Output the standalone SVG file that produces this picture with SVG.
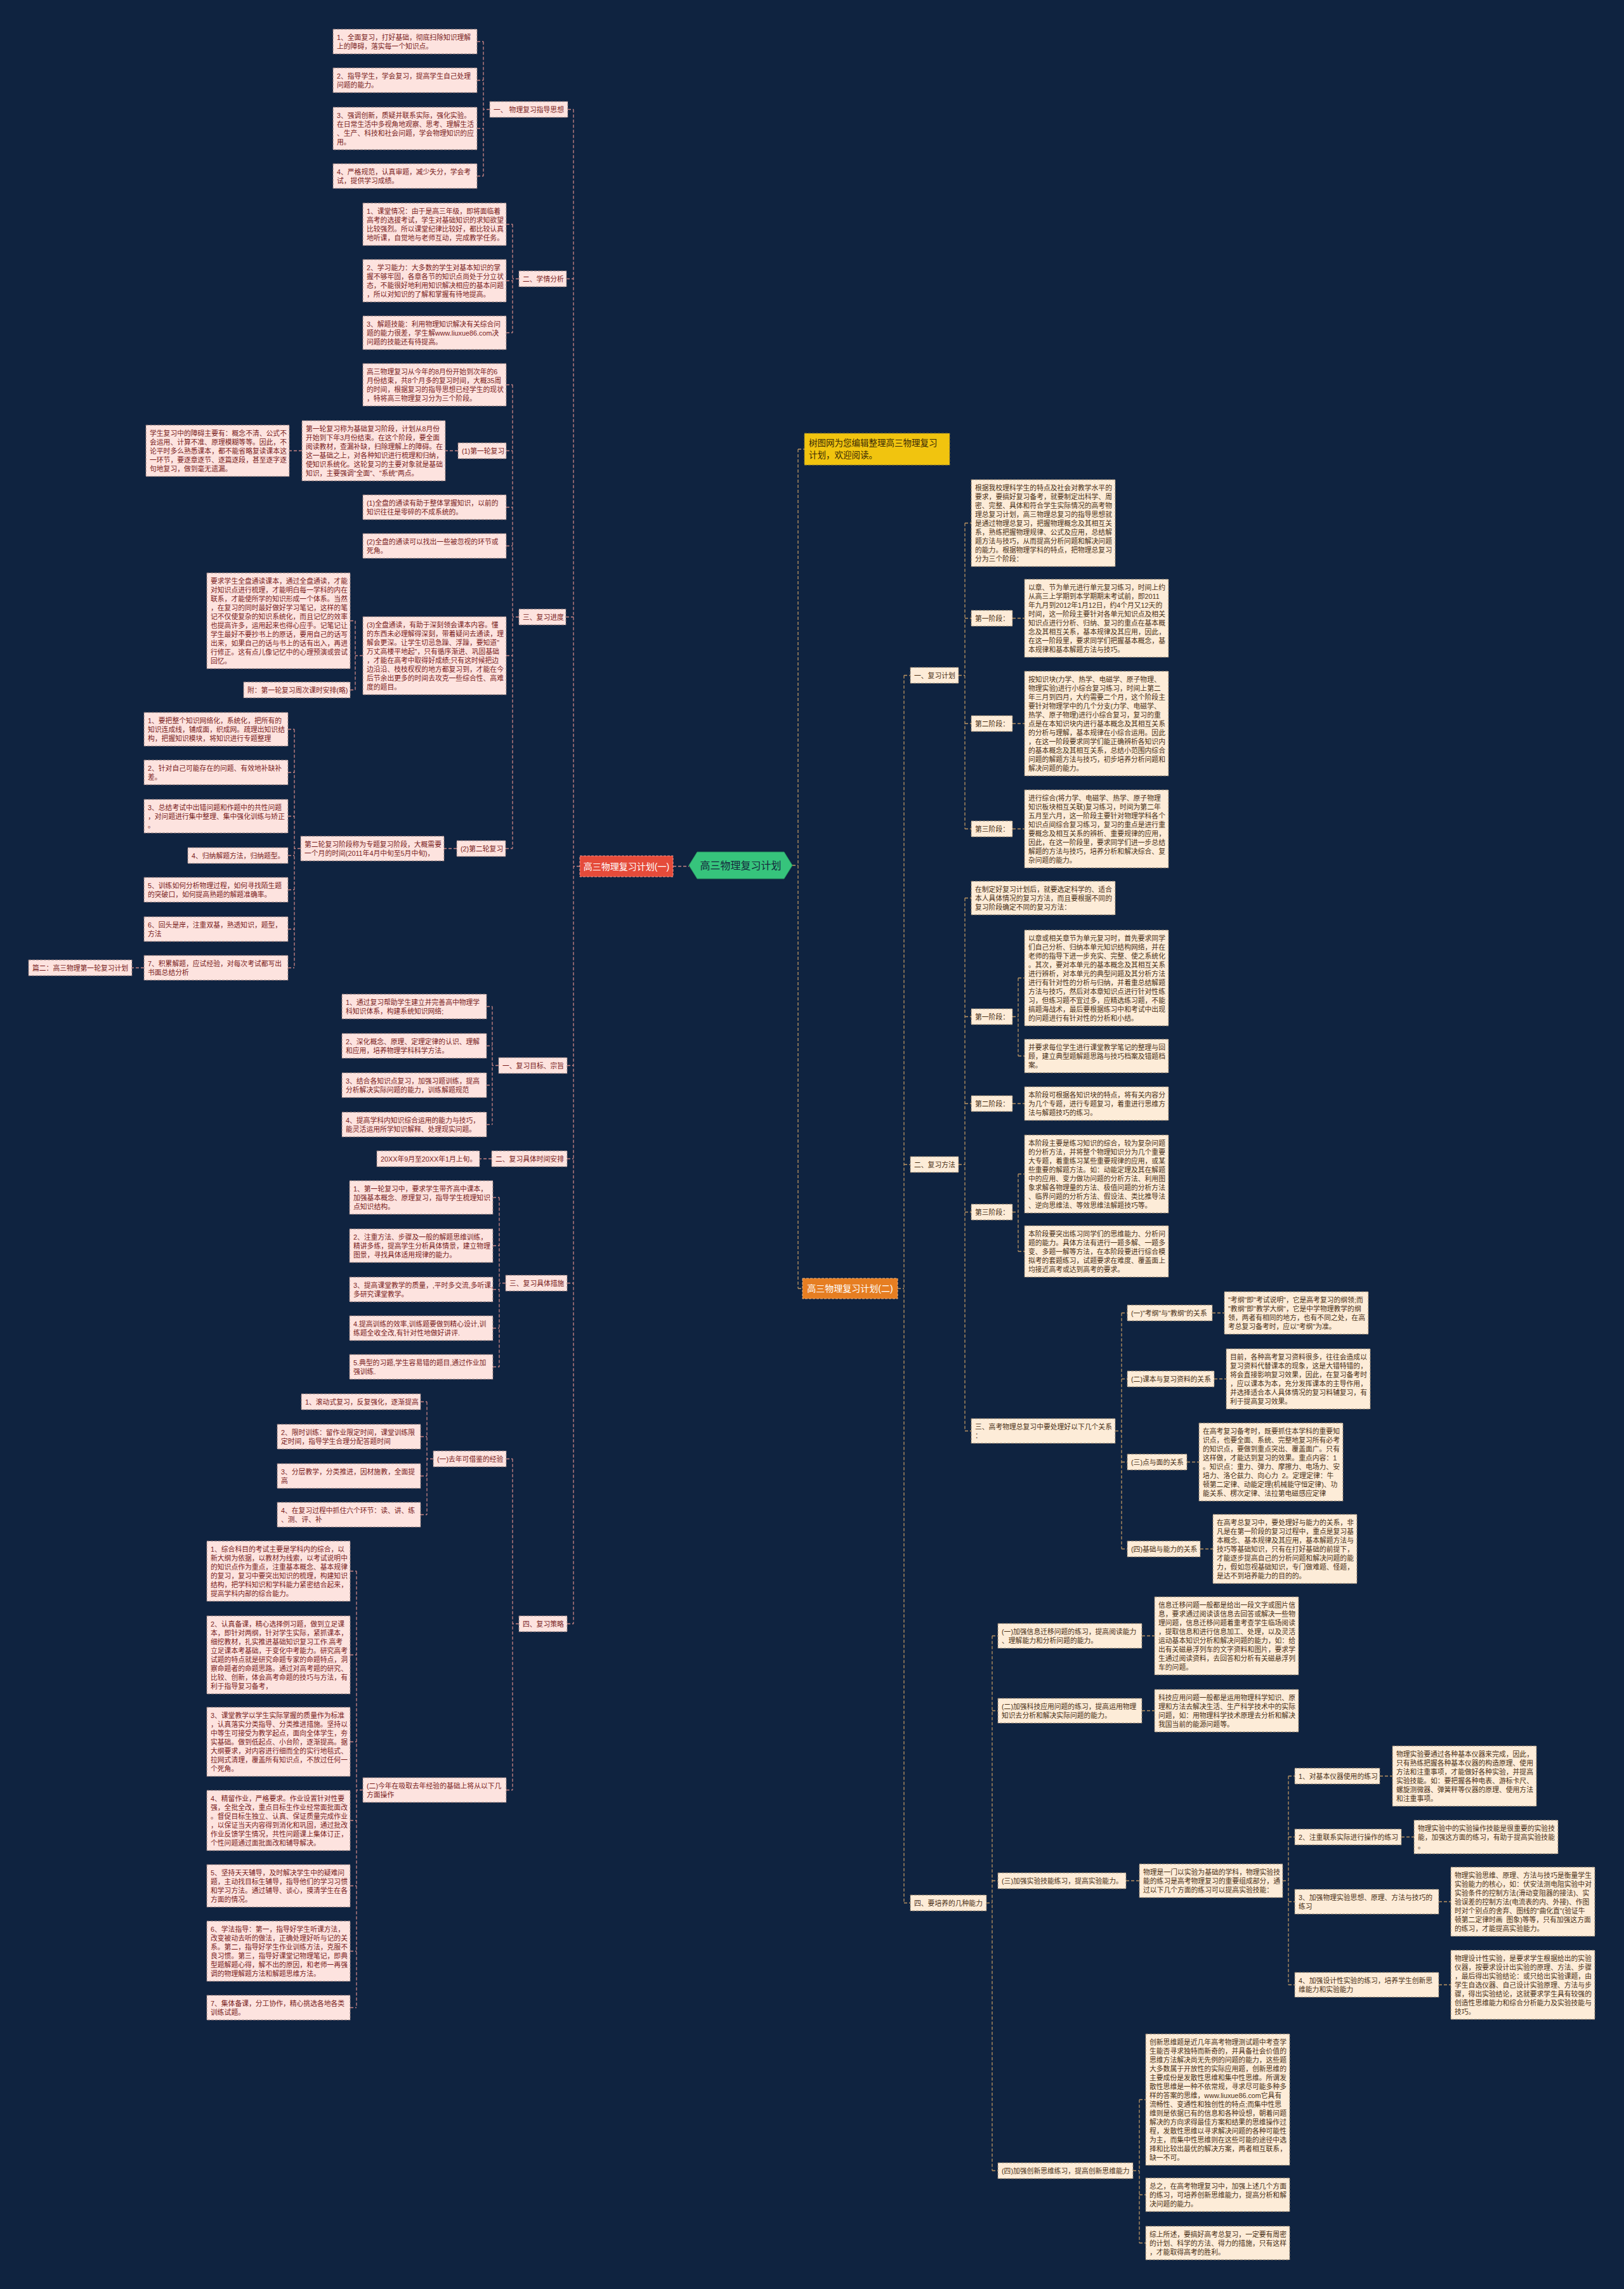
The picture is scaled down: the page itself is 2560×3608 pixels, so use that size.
<svg xmlns="http://www.w3.org/2000/svg" width="2560" height="3608" viewBox="0 0 2560 3608">
<style>
text{font-family:"Liberation Sans","Noto Sans CJK SC",sans-serif;font-size:10.8px}
.L{fill:#fde3df;stroke:#8d7676;stroke-width:1;stroke-dasharray:4 2}
.R{fill:#fdecd8;stroke:#8d7c68;stroke-width:1;stroke-dasharray:4 2}
.l{fill:#7a1c1c}
.r{fill:#4a3015}
.cl{fill:none;stroke:#c98585;stroke-width:1.3;stroke-dasharray:5 3}
.cr{fill:none;stroke:#bb9462;stroke-width:1.3;stroke-dasharray:5 3}
</style>
<rect width="2560" height="3608" fill="#0f2340"/>
<g id="connectors">
<path class="cl" d="M914,1365.5H904M904,172.5V2559.5M895,172.5H904M893,439.5H904M892,972.5H904M894,1679.5H904M894,1826.5H904M894,2022.5H904M894,2559.5H904M1061,1365.5H1086
M772,172.5H762M762,65.5V277.5M752,65.5H762M752,126.5H762M752,202.5H762M752,277.5H762
M818,439.5H808M808,353.5V524.5M798,353.5H808M798,442.5H808M798,524.5H808
M818,972.5H808M808,606.5V1337.5M798,606.5H808M798,710.5H808M798,799.5H808M798,860.5H808M798,1033.5H808M797,1337.5H808
M722,710.5H702M476,710.5H456
M572,1033.5H560M560,978.5V1087.5M552,978.5H560M552,1087.5H560
M720,1337.5H700
M474,1337.5H464M464,1149.5V1525.5M454,1149.5H464M454,1217.5H464M454,1286.5H464M454,1348.5H464M454,1402.5H464M454,1464.5H464M454,1525.5H464
M227,1525.5H208
M786,1679.5H776M776,1586.5V1772.5M767,1586.5H776M767,1648.5H776M767,1710.5H776M767,1772.5H776
M775,1826.5H756
M797,2022.5H787M787,1887.5V2154.5M777,1887.5H787M777,1963.5H787M777,2032.5H787M777,2093.5H787M777,2154.5H787
M818,2559.5H808M808,2299.5V2821.5M798,2299.5H808M798,2821.5H808
M683,2299.5H673M673,2209.5V2387.5M663,2209.5H673M663,2264.5H673M663,2326.5H673M663,2387.5H673
M572,2821.5H562M562,2476.5V3164.5M552,2476.5H562M552,2608.5H562M552,2745.5H562M552,2869.5H562M552,2972.5H562M552,3075.5H562M552,3164.5H562"/>
<path class="cr" d="M1249,1364H1258M1258,708V2031M1258,708H1268M1258,2031H1265
M1415,2031H1425M1425,1064.5V2999.5M1425,1064.5H1435M1425,1835.5H1435M1425,2999.5H1435
M1511,1064.5H1521M1521,824.5V1306.5M1521,824.5H1531M1521,974.5H1531M1521,1140.5H1531M1521,1306.5H1531
M1596,974.5H1615M1596,1140.5H1615M1596,1306.5H1615
M1511,1835.5H1521M1521,1415.5V2255.5M1521,1415.5H1531M1521,1602.5H1531M1521,1739.5H1531M1521,1910.5H1531M1521,2255.5H1531
M1596,1602.5H1605M1605,1541.5V1664.5M1605,1541.5H1615M1605,1664.5H1615
M1596,1739.5H1615
M1596,1910.5H1605M1605,1850.5V1972.5M1605,1850.5H1615M1605,1972.5H1615
M1758,2255.5H1768M1768,2069.5V2441.5M1768,2069.5H1777M1768,2173.5H1777M1768,2304.5H1777M1768,2441.5H1777
M1911,2069.5H1930M1914,2173.5H1933M1871,2304.5H1890M1892,2441.5H1912
M1555,2999.5H1564M1564,2578.5V3421.5M1564,2578.5H1573M1564,2696.5H1573M1564,2964.5H1573M1564,3421.5H1573
M1800,2578.5H1820M1800,2696.5H1820M1775,2964.5H1796
M2022,2964.5H2031M2031,2799.5V3128.5M2031,2799.5H2041M2031,2895.5H2041M2031,2997.5H2041M2031,3128.5H2041
M2175,2799.5H2195M2209,2895.5H2229M2268,2997.5H2287M2268,3128.5H2287
M1786,3421.5H1796M1796,3309.5V3535.5M1796,3309.5H1806M1796,3459.5H1806M1796,3535.5H1806"/>
</g>

<g id="root"><polygon points="1086,1364 1099,1343 1236,1343 1249,1364 1236,1385 1099,1385" fill="#36c47c" stroke="#2a9d62" stroke-width="1"/><text x="1167.5" y="1369.5" text-anchor="middle" style="font-size:16px" fill="#14283c">高三物理复习计划</text></g>

<g id="plan1"><rect x="914" y="1349" width="147" height="33" fill="#e54b3a" stroke="#f39a8f" stroke-dasharray="4 2"/><text x="987.5" y="1370.5" text-anchor="middle" style="font-size:14px" fill="#ffffff">高三物理复习计划(一)</text></g>
<g id="plan2"><rect x="1265" y="2015" width="150" height="32" fill="#e67e22" stroke="#f5b47a" stroke-dasharray="4 2"/><text x="1340" y="2036" text-anchor="middle" style="font-size:14px" fill="#ffffff">高三物理复习计划(二)</text></g>
<g id="intro"><rect x="1268" y="683" width="229" height="50" fill="#f1c40f" stroke="#8a7a30" stroke-dasharray="4 2"/><text style="font-size:13.5px" fill="#3a2a05"><tspan x="1275" y="702.5">树图网为您编辑整理高三物理复习</tspan><tspan x="1275" y="721.5">计划，欢迎阅读。</tspan></text></g>

<!-- LEFT: section 1 -->
<g id="l1"><rect class="L" x="772" y="160" width="123" height="25"/><text class="l" x="778" y="176.5">一、 物理复习指导思想</text></g>
<g id="l1a"><rect class="L" x="525" y="46" width="227" height="39"/><text class="l"><tspan x="531" y="62.5">1、全面复习，打好基础，彻底扫除知识理解</tspan><tspan x="531" dy="14">上的障碍，落实每一个知识点。</tspan></text></g>
<g id="l1b"><rect class="L" x="525" y="107" width="227" height="39"/><text class="l"><tspan x="531" y="123.5">2、指导学生，学会复习，提高学生自己处理</tspan><tspan x="531" dy="14">问题的能力。</tspan></text></g>
<g id="l1c"><rect class="L" x="525" y="169" width="227" height="67"/><text class="l"><tspan x="531" y="185.5">3、强调创新，质疑并联系实际，强化实验。</tspan><tspan x="531" dy="14">在日常生活中多视角地观察、思考、理解生活</tspan><tspan x="531" dy="14">、生产、科技和社会问题，学会物理知识的应</tspan><tspan x="531" dy="14">用。</tspan></text></g>
<g id="l1d"><rect class="L" x="525" y="258" width="227" height="39"/><text class="l"><tspan x="531" y="274.5">4、严格规范，认真审题，减少失分，学会考</tspan><tspan x="531" dy="14">试，提供学习成绩。</tspan></text></g>

<!-- section 2 -->
<g id="l2"><rect class="L" x="818" y="427" width="75" height="25"/><text class="l" x="824" y="443.5">二、学情分析</text></g>
<g id="l2a"><rect class="L" x="572" y="320" width="226" height="67"/><text class="l"><tspan x="578" y="336.5">1、课堂情况：由于是高三年级，即将面临着</tspan><tspan x="578" dy="14">高考的选拔考试，学生对基础知识的求知欲望</tspan><tspan x="578" dy="14">比较强烈。所以课堂纪律比较好，都比较认真</tspan><tspan x="578" dy="14">地听课，自觉地与老师互动，完成教学任务。</tspan></text></g>
<g id="l2b"><rect class="L" x="572" y="409" width="226" height="67"/><text class="l"><tspan x="578" y="425.5">2、学习能力：大多数的学生对基本知识的掌</tspan><tspan x="578" dy="14">握不够牢固，各章各节的知识点尚处于分立状</tspan><tspan x="578" dy="14">态，不能很好地利用知识解决相应的基本问题</tspan><tspan x="578" dy="14">，所以对知识的了解和掌握有待地提高。</tspan></text></g>
<g id="l2c"><rect class="L" x="572" y="498" width="226" height="53"/><text class="l"><tspan x="578" y="514.5">3、解题技能：利用物理知识解决有关综合问</tspan><tspan x="578" dy="14">题的能力很差，学生解www.liuxue86.com决</tspan><tspan x="578" dy="14">问题的技能还有待提高。</tspan></text></g>

<!-- section 3 -->
<g id="l3"><rect class="L" x="818" y="960" width="74" height="25"/><text class="l" x="824" y="976.5">三、复习进度</text></g>
<g id="l3a"><rect class="L" x="572" y="573" width="226" height="67"/><text class="l"><tspan x="578" y="589.5">高三物理复习从今年的8月份开始到次年的6</tspan><tspan x="578" dy="14">月份结束，共8个月多的复习时间，大概35周</tspan><tspan x="578" dy="14">的时间，根据复习的指导思想已经学生的现状</tspan><tspan x="578" dy="14">，特将高三物理复习分为三个阶段。</tspan></text></g>
<g id="l3b"><rect class="L" x="722" y="698" width="76" height="25"/><text class="l" x="728" y="714.5">(1)第一轮复习</text></g>
<g id="l3b1"><rect class="L" x="476" y="663" width="226" height="95"/><text class="l"><tspan x="482" y="679.5">第一轮复习称为基础复习阶段，计划从8月份</tspan><tspan x="482" dy="14">开始到下年3月份结束。在这个阶段，要全面</tspan><tspan x="482" dy="14">阅读教材，查漏补缺，扫除理解上的障碍。在</tspan><tspan x="482" dy="14">这一基础之上，对各种知识进行梳理和归纳，</tspan><tspan x="482" dy="14">使知识系统化。这轮复习的主要对象就是基础</tspan><tspan x="482" dy="14">知识，主要强调"全面"、"系统"两点。</tspan></text></g>
<g id="l3b2"><rect class="L" x="230" y="670" width="226" height="81"/><text class="l"><tspan x="236" y="686.5">学生复习中的障碍主要有：概念不清、公式不</tspan><tspan x="236" dy="14">会运用、计算不准、原理模糊等等。因此，不</tspan><tspan x="236" dy="14">论平时多么熟悉课本，都不能省略复读课本这</tspan><tspan x="236" dy="14">一环节，要逐章逐节、逐篇逐段，甚至逐字逐</tspan><tspan x="236" dy="14">句地复习，做到毫无遗漏。</tspan></text></g>
<g id="l3c"><rect class="L" x="572" y="780" width="226" height="39"/><text class="l"><tspan x="578" y="796.5">(1)全盘的通读有助于整体掌握知识，以前的</tspan><tspan x="578" dy="14">知识往往是零碎的不成系统的。</tspan></text></g>
<g id="l3d"><rect class="L" x="572" y="841" width="226" height="39"/><text class="l"><tspan x="578" y="857.5">(2)全盘的通读可以找出一些被忽视的环节或</tspan><tspan x="578" dy="14">死角。</tspan></text></g>
<g id="l3e"><rect class="L" x="572" y="972" width="226" height="123"/><text class="l"><tspan x="578" y="988.5">(3)全盘通读，有助于深刻领会课本内容。懂</tspan><tspan x="578" dy="14">的东西未必理解得深刻，带着疑问去通读，理</tspan><tspan x="578" dy="14">解会更深。让学生切忌急躁、浮躁，要知道"</tspan><tspan x="578" dy="14">万丈高楼平地起"，只有循序渐进、巩固基础</tspan><tspan x="578" dy="14">，才能在高考中取得好成绩;只有这时候把边</tspan><tspan x="578" dy="14">边沿沿、枝枝杈杈的地方都复习到，才能在今</tspan><tspan x="578" dy="14">后节余出更多的时间去攻克一些综合性、高难</tspan><tspan x="578" dy="14">度的题目。</tspan></text></g>
<g id="l3e1"><rect class="L" x="326" y="903" width="226" height="151"/><text class="l"><tspan x="332" y="919.5">要求学生全盘通读课本，通过全盘通读，才能</tspan><tspan x="332" dy="14">对知识点进行梳理，才能明白每一学科的内在</tspan><tspan x="332" dy="14">联系，才能使所学的知识形成一个体系。当然</tspan><tspan x="332" dy="14">，在复习的同时最好做好学习笔记，这样的笔</tspan><tspan x="332" dy="14">记不仅使复杂的知识系统化，而且记忆的效率</tspan><tspan x="332" dy="14">也提高许多，运用起来也得心应手。记笔记让</tspan><tspan x="332" dy="14">学生最好不要抄书上的原话，要用自己的话写</tspan><tspan x="332" dy="14">出来，如果自己的话与书上的话有出入，再进</tspan><tspan x="332" dy="14">行修正。这有点儿像记忆中的心理预演或尝试</tspan><tspan x="332" dy="14">回忆。</tspan></text></g>
<g id="l3e2"><rect class="L" x="384" y="1075" width="168" height="25"/><text class="l" x="390" y="1091.5">附：第一轮复习周次课时安排(略)</text></g>
<g id="l3f"><rect class="L" x="720" y="1325" width="77" height="25"/><text class="l" x="726" y="1341.5">(2)第二轮复习</text></g>
<g id="l3f1"><rect class="L" x="474" y="1318" width="226" height="39"/><text class="l"><tspan x="480" y="1334.5">第二轮复习阶段称为专题复习阶段，大概需要</tspan><tspan x="480" dy="14">一个月的时间(2011年4月中旬至5月中旬)，</tspan></text></g>
<g id="i1"><rect class="L" x="227" y="1123" width="227" height="53"/><text class="l"><tspan x="233" y="1139.5">1、要把整个知识网络化，系统化，把所有的</tspan><tspan x="233" dy="14">知识连成线，铺成面，织成网。疏理出知识结</tspan><tspan x="233" dy="14">构，把握知识模块，将知识进行专题整理</tspan></text></g>
<g id="i2"><rect class="L" x="227" y="1198" width="227" height="39"/><text class="l"><tspan x="233" y="1214.5">2、针对自己可能存在的问题、有效地补缺补</tspan><tspan x="233" dy="14">差。</tspan></text></g>
<g id="i3"><rect class="L" x="227" y="1260" width="227" height="53"/><text class="l"><tspan x="233" y="1276.5">3、总结考试中出错问题和作题中的共性问题</tspan><tspan x="233" dy="14">，对问题进行集中整理、集中强化训练与矫正</tspan><tspan x="233" dy="14">。</tspan></text></g>
<g id="i4"><rect class="L" x="296" y="1336" width="158" height="25"/><text class="l" x="302" y="1352.5">4、归纳解题方法，归纳题型。</text></g>
<g id="i5"><rect class="L" x="227" y="1383" width="227" height="39"/><text class="l"><tspan x="233" y="1399.5">5、训练如何分析物理过程，如何寻找陌生题</tspan><tspan x="233" dy="14">的突破口，如何提高熟题的解题准确率。</tspan></text></g>
<g id="i6"><rect class="L" x="227" y="1445" width="227" height="39"/><text class="l"><tspan x="233" y="1461.5">6、回头是岸，注重双基，熟透知识，题型，</tspan><tspan x="233" dy="14">方法</tspan></text></g>
<g id="i7"><rect class="L" x="227" y="1506" width="227" height="39"/><text class="l"><tspan x="233" y="1522.5">7、积累解题，应试经验，对每次考试都写出</tspan><tspan x="233" dy="14">书面总结分析</tspan></text></g>
<g id="p2"><rect class="L" x="45" y="1513" width="163" height="25"/><text class="l" x="51" y="1529.5">篇二：高三物理第一轮复习计划</text></g>

<!-- 篇二 parts -->
<g id="m1"><rect class="L" x="786" y="1667" width="108" height="25"/><text class="l" x="792" y="1683.5">一、复习目标、宗旨</text></g>
<g id="m1a"><rect class="L" x="539" y="1567" width="228" height="39"/><text class="l"><tspan x="545" y="1583.5">1、通过复习帮助学生建立并完善高中物理学</tspan><tspan x="545" dy="14">科知识体系，构建系统知识网络;</tspan></text></g>
<g id="m1b"><rect class="L" x="539" y="1629" width="228" height="39"/><text class="l"><tspan x="545" y="1645.5">2、深化概念、原理、定理定律的认识、理解</tspan><tspan x="545" dy="14">和应用，培养物理学科科学方法。</tspan></text></g>
<g id="m1c"><rect class="L" x="539" y="1691" width="228" height="39"/><text class="l"><tspan x="545" y="1707.5">3、结合各知识点复习，加强习题训练，提高</tspan><tspan x="545" dy="14">分析解决实际问题的能力，训练解题规范</tspan></text></g>
<g id="m1d"><rect class="L" x="539" y="1753" width="228" height="39"/><text class="l"><tspan x="545" y="1769.5">4、提高学科内知识综合运用的能力与技巧，</tspan><tspan x="545" dy="14">能灵活运用所学知识解释、处理现实问题。</tspan></text></g>
<g id="m2"><rect class="L" x="775" y="1814" width="119" height="25"/><text class="l" x="781" y="1830.5">二、复习具体时间安排</text></g>
<g id="m2a"><rect class="L" x="594" y="1814" width="162" height="25"/><text class="l" x="600" y="1830.5">20XX年9月至20XX年1月上旬。</text></g>
<g id="m3"><rect class="L" x="797" y="2010" width="97" height="25"/><text class="l" x="803" y="2026.5">三、复习具体措施</text></g>
<g id="m3a"><rect class="L" x="551" y="1861" width="226" height="53"/><text class="l"><tspan x="557" y="1877.5">1、第一轮复习中，要求学生带齐高中课本，</tspan><tspan x="557" dy="14">加强基本概念、原理复习，指导学生梳理知识</tspan><tspan x="557" dy="14">点知识结构。</tspan></text></g>
<g id="m3b"><rect class="L" x="551" y="1937" width="226" height="53"/><text class="l"><tspan x="557" y="1953.5">2、注重方法、步骤及一般的解题思维训练，</tspan><tspan x="557" dy="14">精讲多练，提高学生分析具体情景，建立物理</tspan><tspan x="557" dy="14">图景，寻找具体适用规律的能力。</tspan></text></g>
<g id="m3c"><rect class="L" x="551" y="2013" width="226" height="39"/><text class="l"><tspan x="557" y="2029.5">3、提高课堂教学的质量，,平时多交流,多听课,</tspan><tspan x="557" dy="14">多研究课堂教学。</tspan></text></g>
<g id="m3d"><rect class="L" x="551" y="2074" width="226" height="39"/><text class="l"><tspan x="557" y="2090.5">4.提高训练的效率,训练题要做到精心设计,训</tspan><tspan x="557" dy="14">练题全收全改,有针对性地做好讲评.</tspan></text></g>
<g id="m3e"><rect class="L" x="551" y="2135" width="226" height="39"/><text class="l"><tspan x="557" y="2151.5">5.典型的习题,学生容易错的题目,通过作业加</tspan><tspan x="557" dy="14">强训练.</tspan></text></g>
<g id="m4"><rect class="L" x="818" y="2547" width="76" height="25"/><text class="l" x="824" y="2563.5">四、复习策略</text></g>
<g id="m4a"><rect class="L" x="683" y="2287" width="115" height="25"/><text class="l" x="689" y="2303.5">(一)去年可借鉴的经验</text></g>
<g id="m4a1"><rect class="L" x="475" y="2197" width="188" height="25"/><text class="l" x="481" y="2213.5">1、滚动式复习，反复强化，逐渐提高</text></g>
<g id="m4a2"><rect class="L" x="437" y="2245" width="226" height="39"/><text class="l"><tspan x="443" y="2261.5">2、限时训练：留作业限定时间，课堂训练限</tspan><tspan x="443" dy="14">定时间，指导学生合理分配答题时间</tspan></text></g>
<g id="m4a3"><rect class="L" x="437" y="2307" width="226" height="39"/><text class="l"><tspan x="443" y="2323.5">3、分层教学，分类推进，因材施教，全面提</tspan><tspan x="443" dy="14">高</tspan></text></g>
<g id="m4a4"><rect class="L" x="437" y="2368" width="226" height="39"/><text class="l"><tspan x="443" y="2384.5">4、在复习过程中抓住六个环节：读、讲、练</tspan><tspan x="443" dy="14">、测、评、补</tspan></text></g>
<g id="m4b"><rect class="L" x="572" y="2802" width="226" height="39"/><text class="l"><tspan x="578" y="2818.5">(二)今年在吸取去年经验的基础上将从以下几</tspan><tspan x="578" dy="14">方面操作</tspan></text></g>
<g id="m4b1"><rect class="L" x="326" y="2429" width="226" height="95"/><text class="l"><tspan x="332" y="2445.5">1、综合科目的考试主要是学科内的综合，以</tspan><tspan x="332" dy="14">新大纲为依据，以教材为线索，以考试说明中</tspan><tspan x="332" dy="14">的知识点作为重点，注重基本概念、基本规律</tspan><tspan x="332" dy="14">的复习，复习中要突出知识的梳理，构建知识</tspan><tspan x="332" dy="14">结构，把学科知识和学科能力紧密结合起来，</tspan><tspan x="332" dy="14">提高学科内部的综合能力。</tspan></text></g>
<g id="m4b2"><rect class="L" x="326" y="2547" width="226" height="123"/><text class="l"><tspan x="332" y="2563.5">2、认真备课，精心选择例习题，做到立足课</tspan><tspan x="332" dy="14">本，即针对两纲，针对学生实际，紧抓课本，</tspan><tspan x="332" dy="14">细挖教材，扎实推进基础知识复习工作.高考</tspan><tspan x="332" dy="14">立足课本考基础，于变化中考能力。研究高考</tspan><tspan x="332" dy="14">试题的特点就是研究命题专家的命题特点，洞</tspan><tspan x="332" dy="14">察命题者的命题思路。通过对高考题的研究、</tspan><tspan x="332" dy="14">比较、创新，体会高考命题的技巧与方法，有</tspan><tspan x="332" dy="14">利于指导复习备考，</tspan></text></g>
<g id="m4b3"><rect class="L" x="326" y="2691" width="226" height="109"/><text class="l"><tspan x="332" y="2707.5">3、课堂教学以学生实际掌握的质量作为标准</tspan><tspan x="332" dy="14">，认真落实分类指导、分类推进措施。坚持以</tspan><tspan x="332" dy="14">中等生可接受为教学起点，面向全体学生，夯</tspan><tspan x="332" dy="14">实基础。做到低起点、小台阶，逐渐提高。据</tspan><tspan x="332" dy="14">大纲要求，对内容进行细而全的实行地毯式、</tspan><tspan x="332" dy="14">拉网式清理，覆盖所有知识点，不放过任何一</tspan><tspan x="332" dy="14">个死角。</tspan></text></g>
<g id="m4b4"><rect class="L" x="326" y="2822" width="226" height="95"/><text class="l"><tspan x="332" y="2838.5">4、精留作业，严格要求。作业设置针对性要</tspan><tspan x="332" dy="14">强，全批全改，重点目标生作业经常面批面改</tspan><tspan x="332" dy="14">。督促目标生独立、认真、保证质量完成作业</tspan><tspan x="332" dy="14">，以保证当天内容得到消化和巩固，通过批改</tspan><tspan x="332" dy="14">作业反馈学生情况，共性问题课上集体订正，</tspan><tspan x="332" dy="14">个性问题通过面批面改和辅导解决。</tspan></text></g>
<g id="m4b5"><rect class="L" x="326" y="2939" width="226" height="67"/><text class="l"><tspan x="332" y="2955.5">5、坚持天天辅导，及时解决学生中的疑难问</tspan><tspan x="332" dy="14">题，主动找目标生辅导，指导他们的学习习惯</tspan><tspan x="332" dy="14">和学习方法。通过辅导、谈心，摸清学生在各</tspan><tspan x="332" dy="14">方面的情况。</tspan></text></g>
<g id="m4b6"><rect class="L" x="326" y="3028" width="226" height="95"/><text class="l"><tspan x="332" y="3044.5">6、学法指导：第一，指导好学生听课方法，</tspan><tspan x="332" dy="14">改变被动去听的做法，正确处理好听与记的关</tspan><tspan x="332" dy="14">系。第二，指导好学生作业训练方法，克服不</tspan><tspan x="332" dy="14">良习惯。第三，指导好课堂记物理笔记，即典</tspan><tspan x="332" dy="14">型题解题心得，解不出的原因，和老师一再强</tspan><tspan x="332" dy="14">调的物理解题方法和解题思维方法。</tspan></text></g>
<g id="m4b7"><rect class="L" x="326" y="3145" width="226" height="39"/><text class="l"><tspan x="332" y="3161.5">7、集体备课，分工协作，精心挑选各地各类</tspan><tspan x="332" dy="14">训练试题。</tspan></text></g>

<!-- RIGHT -->
<g id="r1"><rect class="R" x="1435" y="1052" width="76" height="25"/><text class="r" x="1441" y="1068.5">一、复习计划</text></g>
<g id="r1a"><rect class="R" x="1531" y="756" width="227" height="137"/><text class="r"><tspan x="1537" y="772.5">根据我校理科学生的特点及社会对教学水平的</tspan><tspan x="1537" dy="14">要求，要搞好复习备考，就要制定出科学、周</tspan><tspan x="1537" dy="14">密、完整、具体和符合学生实际情况的高考物</tspan><tspan x="1537" dy="14">理总复习计划，高三物理总复习的指导思想就</tspan><tspan x="1537" dy="14">是通过物理总复习，把握物理概念及其相互关</tspan><tspan x="1537" dy="14">系，熟练把握物理规律、公式及应用，总结解</tspan><tspan x="1537" dy="14">题方法与技巧，从而提高分析问题和解决问题</tspan><tspan x="1537" dy="14">的能力。根据物理学科的特点，把物理总复习</tspan><tspan x="1537" dy="14">分为三个阶段：</tspan></text></g>
<g id="r1b"><rect class="R" x="1531" y="962" width="65" height="25"/><text class="r" x="1537" y="978.5">第一阶段：</text></g>
<g id="r1b1"><rect class="R" x="1615" y="913" width="227" height="123"/><text class="r"><tspan x="1621" y="929.5">以章、节为单元进行单元复习练习，时间上约</tspan><tspan x="1621" dy="14">从高三上学期到本学期期末考试前，即2011</tspan><tspan x="1621" dy="14">年九月到2012年1月12日，约4个月又12天的</tspan><tspan x="1621" dy="14">时间，这一阶段主要针对各单元知识点及相关</tspan><tspan x="1621" dy="14">知识点进行分析、归纳、复习的重点在基本概</tspan><tspan x="1621" dy="14">念及其相互关系，基本规律及其应用，因此，</tspan><tspan x="1621" dy="14">在这一阶段里，要求同学们把握基本概念，基</tspan><tspan x="1621" dy="14">本规律和基本解题方法与技巧。</tspan></text></g>
<g id="r1c"><rect class="R" x="1531" y="1128" width="65" height="25"/><text class="r" x="1537" y="1144.5">第二阶段：</text></g>
<g id="r1c1"><rect class="R" x="1615" y="1058" width="227" height="165"/><text class="r"><tspan x="1621" y="1074.5">按知识块(力学、热学、电磁学、原子物理、</tspan><tspan x="1621" dy="14">物理实验)进行小综合复习练习，时间上第二</tspan><tspan x="1621" dy="14">年三月到四月，大约需要二个月，这个阶段主</tspan><tspan x="1621" dy="14">要针对物理学中的几个分支(力学、电磁学、</tspan><tspan x="1621" dy="14">热学、原子物理)进行小综合复习，复习的重</tspan><tspan x="1621" dy="14">点是在本知识块内进行基本概念及其相互关系</tspan><tspan x="1621" dy="14">的分析与理解，基本规律在小综合运用。因此</tspan><tspan x="1621" dy="14">，在这一阶段要求同学们能正确辨析各知识内</tspan><tspan x="1621" dy="14">的基本概念及其相互关系，总结小范围内综合</tspan><tspan x="1621" dy="14">问题的解题方法与技巧，初步培养分析问题和</tspan><tspan x="1621" dy="14">解决问题的能力。</tspan></text></g>
<g id="r1d"><rect class="R" x="1531" y="1294" width="65" height="25"/><text class="r" x="1537" y="1310.5">第三阶段：</text></g>
<g id="r1d1"><rect class="R" x="1615" y="1245" width="227" height="123"/><text class="r"><tspan x="1621" y="1261.5">进行综合(将力学、电磁学、热学、原子物理</tspan><tspan x="1621" dy="14">知识板块相互关联)复习练习，时间为第二年</tspan><tspan x="1621" dy="14">五月至六月，这一阶段主要针对物理学科各个</tspan><tspan x="1621" dy="14">知识点间综合复习练习，复习的重点是进行重</tspan><tspan x="1621" dy="14">要概念及相互关系的辨析、重要规律的应用，</tspan><tspan x="1621" dy="14">因此，在这一阶段里，要求同学们进一步总结</tspan><tspan x="1621" dy="14">解题的方法与技巧，培养分析和解决综合、复</tspan><tspan x="1621" dy="14">杂问题的能力。</tspan></text></g>

<g id="r2"><rect class="R" x="1435" y="1823" width="76" height="25"/><text class="r" x="1441" y="1839.5">二、复习方法</text></g>
<g id="r2a"><rect class="R" x="1531" y="1389" width="227" height="53"/><text class="r"><tspan x="1537" y="1405.5">在制定好复习计划后，就要选定科学的、适合</tspan><tspan x="1537" dy="14">本人具体情况的复习方法，而且要根据不同的</tspan><tspan x="1537" dy="14">复习阶段确定不同的复习方法：</tspan></text></g>
<g id="r2b"><rect class="R" x="1531" y="1590" width="65" height="25"/><text class="r" x="1537" y="1606.5">第一阶段：</text></g>
<g id="r2b1"><rect class="R" x="1615" y="1466" width="227" height="151"/><text class="r"><tspan x="1621" y="1482.5">以章或相关章节为单元复习时，首先要求同学</tspan><tspan x="1621" dy="14">们自己分析、归纳本单元知识结构网络，并在</tspan><tspan x="1621" dy="14">老师的指导下进一步充实、完整、使之系统化</tspan><tspan x="1621" dy="14">。其次，要对本单元的基本概念及其相互关系</tspan><tspan x="1621" dy="14">进行辨析，对本单元的典型问题及其分析方法</tspan><tspan x="1621" dy="14">进行有针对性的分析与归纳，并着重总结解题</tspan><tspan x="1621" dy="14">方法与技巧，然后对本章知识点进行针对性练</tspan><tspan x="1621" dy="14">习，但练习题不宜过多，应精选练习题，不能</tspan><tspan x="1621" dy="14">搞题海战术，最后要根据练习中和考试中出现</tspan><tspan x="1621" dy="14">的问题进行有针对性的分析和小结。</tspan></text></g>
<g id="r2b2"><rect class="R" x="1615" y="1638" width="227" height="53"/><text class="r"><tspan x="1621" y="1654.5">并要求每位学生进行课堂教学笔记的整理与回</tspan><tspan x="1621" dy="14">顾，建立典型题解题思路与技巧档案及错题档</tspan><tspan x="1621" dy="14">案。</tspan></text></g>
<g id="r2c"><rect class="R" x="1531" y="1727" width="65" height="25"/><text class="r" x="1537" y="1743.5">第二阶段：</text></g>
<g id="r2c1"><rect class="R" x="1615" y="1713" width="227" height="53"/><text class="r"><tspan x="1621" y="1729.5">本阶段可根据各知识块的特点，将有关内容分</tspan><tspan x="1621" dy="14">为几个专题，进行专题复习，着重进行思维方</tspan><tspan x="1621" dy="14">法与解题技巧的练习。</tspan></text></g>
<g id="r2d"><rect class="R" x="1531" y="1898" width="65" height="25"/><text class="r" x="1537" y="1914.5">第三阶段：</text></g>
<g id="r2d1"><rect class="R" x="1615" y="1789" width="227" height="123"/><text class="r"><tspan x="1621" y="1805.5">本阶段主要是练习知识的综合，较为复杂问题</tspan><tspan x="1621" dy="14">的分析方法，并将整个物理知识分为几个重要</tspan><tspan x="1621" dy="14">大专题，着重练习某些重要规律的应用，或某</tspan><tspan x="1621" dy="14">些重要的解题方法。如：动能定理及其在解题</tspan><tspan x="1621" dy="14">中的应用、变力做功问题的分析方法、利用图</tspan><tspan x="1621" dy="14">象求解各物理量的方法、极值问题的分析方法</tspan><tspan x="1621" dy="14">、临界问题的分析方法、假设法、类比推导法</tspan><tspan x="1621" dy="14">、逆向思维法、等效思维法解题技巧等。</tspan></text></g>
<g id="r2d2"><rect class="R" x="1615" y="1932" width="227" height="81"/><text class="r"><tspan x="1621" y="1948.5">本阶段要突出练习同学们的思维能力、分析问</tspan><tspan x="1621" dy="14">题的能力。具体方法有进行一题多解、一题多</tspan><tspan x="1621" dy="14">变、多题一解等方法，在本阶段要进行综合模</tspan><tspan x="1621" dy="14">拟考的套题练习，试题要求在难度、覆盖面上</tspan><tspan x="1621" dy="14">均接近高考或达到高考的要求。</tspan></text></g>
<g id="r2e"><rect class="R" x="1531" y="2236" width="227" height="39"/><text class="r"><tspan x="1537" y="2252.5">三、高考物理总复习中要处理好以下几个关系</tspan><tspan x="1537" dy="14">：</tspan></text></g>
<g id="r2e1"><rect class="R" x="1777" y="2057" width="134" height="25"/><text class="r" x="1783" y="2073.5">(一)"考纲"与"教纲"的关系</text></g>
<g id="r2e1t"><rect class="R" x="1930" y="2036" width="227" height="67"/><text class="r"><tspan x="1936" y="2052.5">"考纲"即"考试说明"，它是高考复习的纲领;而</tspan><tspan x="1936" dy="14">"教纲"即"教学大纲"，它是中学物理教学的纲</tspan><tspan x="1936" dy="14">领，两者有相同的地方，也有不同之处，在高</tspan><tspan x="1936" dy="14">考总复习备考时，应以"考纲"为准。</tspan></text></g>
<g id="r2e2"><rect class="R" x="1777" y="2161" width="137" height="25"/><text class="r" x="1783" y="2177.5">(二)课本与复习资料的关系</text></g>
<g id="r2e2t"><rect class="R" x="1933" y="2126" width="227" height="95"/><text class="r"><tspan x="1939" y="2142.5">目前，各种高考复习资料很多，往往会造成以</tspan><tspan x="1939" dy="14">复习资料代替课本的现象，这是大错特错的，</tspan><tspan x="1939" dy="14">将会直接影响复习效果，因此，在复习备考时</tspan><tspan x="1939" dy="14">，应以课本为本，充分发挥课本的主导作用，</tspan><tspan x="1939" dy="14">并选择适合本人具体情况的复习料辅复习，有</tspan><tspan x="1939" dy="14">利于提高复习效果。</tspan></text></g>
<g id="r2e3"><rect class="R" x="1777" y="2292" width="94" height="25"/><text class="r" x="1783" y="2308.5">(三)点与面的关系</text></g>
<g id="r2e3t"><rect class="R" x="1890" y="2243" width="227" height="123"/><text class="r"><tspan x="1896" y="2259.5">在高考复习备考时，既要抓住本学科的重要知</tspan><tspan x="1896" dy="14">识点，也要全面、系统、完整地复习所有必考</tspan><tspan x="1896" dy="14">的知识点，要做到重点突出、覆盖面广。只有</tspan><tspan x="1896" dy="14">这样做，才能达到复习的效果。重点内容：1</tspan><tspan x="1896" dy="14">。知识点：重力、弹力、摩擦力、电场力、安</tspan><tspan x="1896" dy="14">培力、洛仑兹力、向心力&#160;&#160;2。定理定律：牛</tspan><tspan x="1896" dy="14">顿第二定律、动能定理(机械能守恒定律)、功</tspan><tspan x="1896" dy="14">能关系、楞次定律、法拉第电磁感应定律</tspan></text></g>
<g id="r2e4"><rect class="R" x="1777" y="2429" width="115" height="25"/><text class="r" x="1783" y="2445.5">(四)基础与能力的关系</text></g>
<g id="r2e4t"><rect class="R" x="1912" y="2387" width="227" height="109"/><text class="r"><tspan x="1918" y="2403.5">在高考总复习中，要处理好与能力的关系，非</tspan><tspan x="1918" dy="14">凡是在第一阶段的复习过程中，重点是复习基</tspan><tspan x="1918" dy="14">本概念、基本规律及其应用，基本解题方法与</tspan><tspan x="1918" dy="14">技巧等基础知识，只有在打好基础的前提下，</tspan><tspan x="1918" dy="14">才能逐步提高自己的分析问题和解决问题的能</tspan><tspan x="1918" dy="14">力，假如忽视基础知识，专门做难题、怪题，</tspan><tspan x="1918" dy="14">是达不到培养能力的目的的。</tspan></text></g>

<g id="r4"><rect class="R" x="1435" y="2987" width="120" height="25"/><text class="r" x="1441" y="3003.5">四、要培养的几种能力</text></g>
<g id="r4a"><rect class="R" x="1573" y="2559" width="227" height="39"/><text class="r"><tspan x="1579" y="2575.5">(一)加强信息迁移问题的练习，提高阅读能力</tspan><tspan x="1579" dy="14">、理解能力和分析问题的能力。</tspan></text></g>
<g id="r4a1"><rect class="R" x="1820" y="2517" width="227" height="123"/><text class="r"><tspan x="1826" y="2533.5">信息迁移问题一般都是给出一段文字或图片信</tspan><tspan x="1826" dy="14">息，要求通过阅读该信息去回答或解决一些物</tspan><tspan x="1826" dy="14">理问题，信息迁移问题着重考查学生临场阅读</tspan><tspan x="1826" dy="14">，提取信息和进行信息加工、处理，以及灵活</tspan><tspan x="1826" dy="14">运动基本知识分析和解决问题的能力，如：给</tspan><tspan x="1826" dy="14">出有关磁悬浮列车的文字资料和图片，要求学</tspan><tspan x="1826" dy="14">生通过阅读资料，去回答和分析有关磁悬浮列</tspan><tspan x="1826" dy="14">车的问题。</tspan></text></g>
<g id="r4b"><rect class="R" x="1573" y="2677" width="227" height="39"/><text class="r"><tspan x="1579" y="2693.5">(二)加强科技应用问题的练习，提高运用物理</tspan><tspan x="1579" dy="14">知识去分析和解决实际问题的能力。</tspan></text></g>
<g id="r4b1"><rect class="R" x="1820" y="2663" width="227" height="67"/><text class="r"><tspan x="1826" y="2679.5">科技应用问题一般都是运用物理科学知识、原</tspan><tspan x="1826" dy="14">理和方法去解决生活、生产科学技术中的实际</tspan><tspan x="1826" dy="14">问题，如：用物理科学技术原理去分析和解决</tspan><tspan x="1826" dy="14">我国当前的能源问题等。</tspan></text></g>
<g id="r4c"><rect class="R" x="1573" y="2952" width="202" height="25"/><text class="r" x="1579" y="2968.5">(三)加强实验技能练习，提高实验能力。</text></g>
<g id="r4c1"><rect class="R" x="1796" y="2938" width="226" height="53"/><text class="r"><tspan x="1802" y="2954.5">物理是一门以实验为基础的学科，物理实验技</tspan><tspan x="1802" dy="14">能的练习是高考物理复习的重要组成部分，通</tspan><tspan x="1802" dy="14">过以下几个方面的练习可以提高实验技能：</tspan></text></g>
<g id="r4c1a"><rect class="R" x="2041" y="2787" width="134" height="25"/><text class="r" x="2047" y="2803.5">1、对基本仪器使用的练习</text></g>
<g id="r4c1at"><rect class="R" x="2195" y="2752" width="227" height="95"/><text class="r"><tspan x="2201" y="2768.5">物理实验要通过各种基本仪器来完成，因此，</tspan><tspan x="2201" dy="14">只有熟练把握各种基本仪器的构造原理、使用</tspan><tspan x="2201" dy="14">方法和注重事项，才能做好各种实验，并提高</tspan><tspan x="2201" dy="14">实验技能。如：要把握各种电表、游标卡尺、</tspan><tspan x="2201" dy="14">螺旋测微器、弹簧秤等仪器的原理、使用方法</tspan><tspan x="2201" dy="14">和注重事项。</tspan></text></g>
<g id="r4c1b"><rect class="R" x="2041" y="2883" width="168" height="25"/><text class="r" x="2047" y="2899.5">2、注重联系实际进行操作的练习</text></g>
<g id="r4c1bt"><rect class="R" x="2229" y="2869" width="227" height="53"/><text class="r"><tspan x="2235" y="2885.5">物理实验中的实验操作技能是很重要的实验技</tspan><tspan x="2235" dy="14">能，加强这方面的练习，有助于提高实验技能</tspan><tspan x="2235" dy="14">。</tspan></text></g>
<g id="r4c1c"><rect class="R" x="2041" y="2978" width="227" height="39"/><text class="r"><tspan x="2047" y="2994.5">3、加强物理实验思想、原理、方法与技巧的</tspan><tspan x="2047" dy="14">练习</tspan></text></g>
<g id="r4c1ct"><rect class="R" x="2287" y="2943" width="227" height="109"/><text class="r"><tspan x="2293" y="2959.5">物理实验思维、原理、方法与技巧是衡量学生</tspan><tspan x="2293" dy="14">实验能力的核心，如：伏安法测电阻实验中对</tspan><tspan x="2293" dy="14">实验条件的控制方法(滑动变阻器的接法)、实</tspan><tspan x="2293" dy="14">验误差的控制方法(电流表的内、外接)、作图</tspan><tspan x="2293" dy="14">时对个别点的舍弃、图线的"曲化直"(验证牛</tspan><tspan x="2293" dy="14">顿第二定律时画&#160;&#160;图象)等等，只有加强这方面</tspan><tspan x="2293" dy="14">的练习，才能提高实验能力。</tspan></text></g>
<g id="r4c1d"><rect class="R" x="2041" y="3109" width="227" height="39"/><text class="r"><tspan x="2047" y="3125.5">4、加强设计性实验的练习，培养学生创新思</tspan><tspan x="2047" dy="14">维能力和实验能力</tspan></text></g>
<g id="r4c1dt"><rect class="R" x="2287" y="3074" width="227" height="109"/><text class="r"><tspan x="2293" y="3090.5">物理设计性实验，是要求学生根据给出的实验</tspan><tspan x="2293" dy="14">仪器，按要求设计出实验的原理、方法、步骤</tspan><tspan x="2293" dy="14">，最后得出实验结论：或只给出实验课题，由</tspan><tspan x="2293" dy="14">学生自选仪器、自己设计实验原理、方法与步</tspan><tspan x="2293" dy="14">骤，得出实验结论，这就要求学生具有较强的</tspan><tspan x="2293" dy="14">创造性思维能力和综合分析能力及实验技能与</tspan><tspan x="2293" dy="14">技巧。</tspan></text></g>
<g id="r4d"><rect class="R" x="1573" y="3409" width="213" height="25"/><text class="r" x="1579" y="3425.5">(四)加强创新思维练习，提高创新思维能力</text></g>
<g id="r4d1"><rect class="R" x="1806" y="3206" width="227" height="207"/><text class="r"><tspan x="1812" y="3222.5">创新思维题是近几年高考物理测试题中考查学</tspan><tspan x="1812" dy="14">生能否寻求独特而新奇的，并具备社会价值的</tspan><tspan x="1812" dy="14">思维方法解决尚无先例的问题的能力，这些题</tspan><tspan x="1812" dy="14">大多数属于开放性的实际应用题，创新思维的</tspan><tspan x="1812" dy="14">主要成份是发散性思维和集中性思维。所谓发</tspan><tspan x="1812" dy="14">散性思维是一种不依常规，寻求尽可能多种多</tspan><tspan x="1812" dy="14">样的答案的思维，www.liuxue86.com它具有</tspan><tspan x="1812" dy="14">流畅性、变通性和独创性的特点;而集中性思</tspan><tspan x="1812" dy="14">维则是依据已有的信息和各种设想，朝着问题</tspan><tspan x="1812" dy="14">解决的方向求得最佳方案和结果的思维操作过</tspan><tspan x="1812" dy="14">程，发散性思维以寻求解决问题的各种可能性</tspan><tspan x="1812" dy="14">为主，而集中性思维则在这些可能的途径中选</tspan><tspan x="1812" dy="14">择和比较出最优的解决方案，两者相互联系，</tspan><tspan x="1812" dy="14">缺一不可。</tspan></text></g>
<g id="r4d2"><rect class="R" x="1806" y="3433" width="227" height="53"/><text class="r"><tspan x="1812" y="3449.5">总之，在高考物理复习中，加强上述几个方面</tspan><tspan x="1812" dy="14">的练习，可培养创新思维能力，提高分析和解</tspan><tspan x="1812" dy="14">决问题的能力。</tspan></text></g>
<g id="r4d3"><rect class="R" x="1806" y="3509" width="227" height="53"/><text class="r"><tspan x="1812" y="3525.5">综上所述，要搞好高考总复习，一定要有周密</tspan><tspan x="1812" dy="14">的计划、科学的方法、得力的措施，只有这样</tspan><tspan x="1812" dy="14">，才能取得高考的胜利。</tspan></text></g>
</svg>
